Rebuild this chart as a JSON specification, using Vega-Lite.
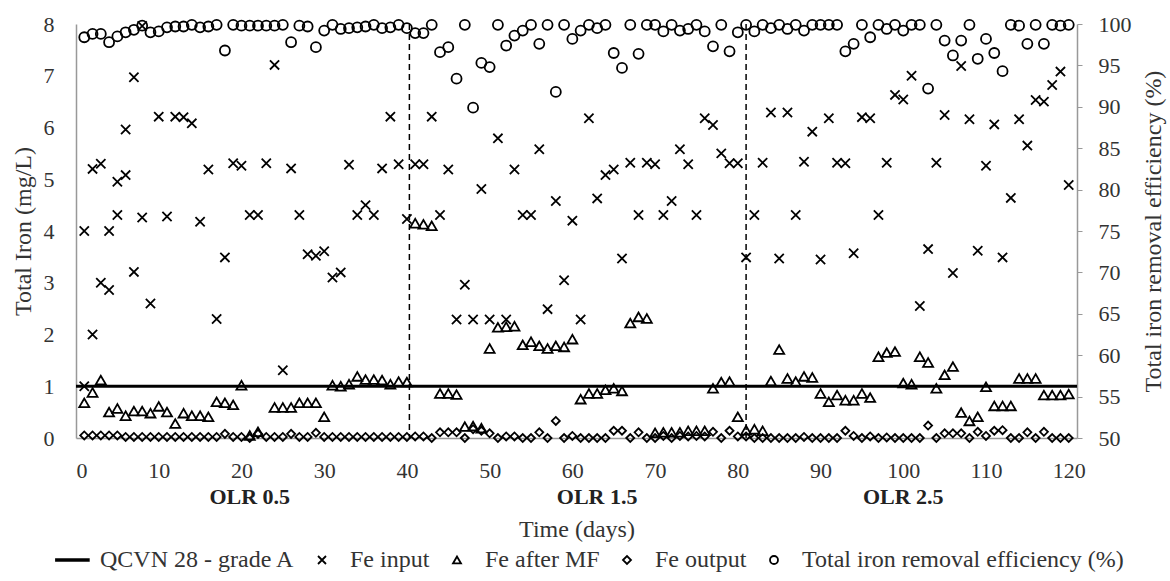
{
  "$schema": "https://vega.github.io/schema/vega-lite/v6.json",
  "width": 1001,
  "height": 414,
  "autosize": {"type": "none"},
  "padding": {"left": 76, "top": 24, "right": 93, "bottom": 143},
  "background": "white",
  "config": {
    "view": {"stroke": null},
    "font": "Liberation Serif",
    "axis": {"grid": false, "labelFont": "Liberation Serif", "titleFont": "Liberation Serif", "labelColor": "#333", "titleColor": "#333", "titleFontWeight": "normal", "domainColor": "#999", "domainWidth": 1.5, "tickColor": "#999"},
    "legend": {"labelFont": "Liberation Serif"}
  },
  "datasets": {
    "standard": [{"iron": 1}],
    "phases": [{"day": 40.3}, {"day": 81}],
    "olr": [{"day": 21, "label": "OLR 0.5"}, {"day": 63, "label": "OLR 1.5"}, {"day": 100, "label": "OLR 2.5"}],
    "fe_in": [
      {"day":1,"iron":4.0},{"day":1,"iron":1.0},{"day":2,"iron":5.2},{"day":2,"iron":2.0},{"day":3,"iron":5.3},{"day":3,"iron":3.0},{"day":4,"iron":4.0},{"day":4,"iron":2.86},{"day":5,"iron":4.31},{"day":5,"iron":4.95},{"day":6,"iron":5.08},{"day":6,"iron":5.96},{"day":7,"iron":6.97},{"day":7,"iron":3.21},{"day":8,"iron":4.26},{"day":8,"iron":7.96},{"day":9,"iron":2.6},{"day":10,"iron":6.21},{"day":11,"iron":4.28},{"day":12,"iron":6.21},{"day":13,"iron":6.2},{"day":14,"iron":6.08},{"day":15,"iron":4.18},{"day":16,"iron":5.19},{"day":17,"iron":2.3},{"day":18,"iron":3.49},{"day":19,"iron":5.31},{"day":20,"iron":5.26},{"day":21,"iron":4.31},{"day":22,"iron":4.31},{"day":23,"iron":5.31},{"day":24,"iron":7.21},{"day":25,"iron":1.31},{"day":26,"iron":5.21},{"day":27,"iron":4.31},{"day":28,"iron":3.55},{"day":29,"iron":3.52},{"day":30,"iron":3.61},{"day":31,"iron":3.1},{"day":32,"iron":3.2},{"day":33,"iron":5.28},{"day":34,"iron":4.31},{"day":35,"iron":4.5},{"day":36,"iron":4.31},{"day":37,"iron":5.21},{"day":38,"iron":6.21},{"day":39,"iron":5.29},{"day":40,"iron":4.23},{"day":41,"iron":5.29},{"day":42,"iron":5.29},{"day":43,"iron":6.21},{"day":44,"iron":4.31},{"day":45,"iron":5.19},{"day":46,"iron":2.29},{"day":47,"iron":2.96},{"day":48,"iron":2.29},{"day":49,"iron":4.81},{"day":50,"iron":2.29},{"day":51,"iron":5.79},{"day":52,"iron":2.29},{"day":53,"iron":5.19},{"day":54,"iron":4.31},{"day":55,"iron":4.31},{"day":56,"iron":5.58},{"day":57,"iron":2.49},{"day":58,"iron":4.58},{"day":59,"iron":3.05},{"day":60,"iron":4.2},{"day":61,"iron":2.29},{"day":62,"iron":6.18},{"day":63,"iron":4.63},{"day":64,"iron":5.08},{"day":65,"iron":5.19},{"day":66,"iron":3.47},{"day":67,"iron":5.32},{"day":68,"iron":4.31},{"day":69,"iron":5.32},{"day":70,"iron":5.29},{"day":71,"iron":4.31},{"day":72,"iron":4.58},{"day":73,"iron":5.58},{"day":74,"iron":5.29},{"day":75,"iron":4.31},{"day":76,"iron":6.18},{"day":77,"iron":6.05},{"day":78,"iron":5.5},{"day":79,"iron":5.31},{"day":80,"iron":5.31},{"day":81,"iron":3.49},{"day":82,"iron":4.31},{"day":83,"iron":5.32},{"day":84,"iron":6.29},{"day":85,"iron":3.47},{"day":86,"iron":6.29},{"day":87,"iron":4.31},{"day":88,"iron":5.34},{"day":89,"iron":5.92},{"day":90,"iron":3.45},{"day":91,"iron":6.18},{"day":92,"iron":5.32},{"day":93,"iron":5.31},{"day":94,"iron":3.57},{"day":95,"iron":6.2},{"day":96,"iron":6.18},{"day":97,"iron":4.31},{"day":98,"iron":5.32},{"day":99,"iron":6.63},{"day":100,"iron":6.54},{"day":101,"iron":7.0},{"day":102,"iron":2.55},{"day":103,"iron":3.65},{"day":104,"iron":5.32},{"day":105,"iron":6.24},{"day":106,"iron":3.19},{"day":107,"iron":7.19},{"day":108,"iron":6.16},{"day":109,"iron":3.62},{"day":110,"iron":5.26},{"day":111,"iron":6.06},{"day":112,"iron":3.49},{"day":113,"iron":4.64},{"day":114,"iron":6.16},{"day":115,"iron":5.65},{"day":116,"iron":6.53},{"day":117,"iron":6.5},{"day":118,"iron":6.82},{"day":119,"iron":7.08},{"day":120,"iron":4.89}
    ],
    "fe_mf": [
      {"day":1,"iron":0.68},{"day":2,"iron":0.88},{"day":3,"iron":1.12},{"day":4,"iron":0.5},{"day":5,"iron":0.57},{"day":6,"iron":0.43},{"day":7,"iron":0.52},{"day":8,"iron":0.52},{"day":9,"iron":0.48},{"day":10,"iron":0.61},{"day":11,"iron":0.5},{"day":12,"iron":0.28},{"day":13,"iron":0.48},{"day":14,"iron":0.43},{"day":15,"iron":0.43},{"day":16,"iron":0.41},{"day":17,"iron":0.7},{"day":18,"iron":0.68},{"day":19,"iron":0.64},{"day":20,"iron":1.02},{"day":21,"iron":0.05},{"day":22,"iron":0.12},{"day":24,"iron":0.59},{"day":25,"iron":0.59},{"day":26,"iron":0.59},{"day":27,"iron":0.68},{"day":28,"iron":0.68},{"day":29,"iron":0.68},{"day":30,"iron":0.41},{"day":31,"iron":1.02},{"day":32,"iron":1.0},{"day":33,"iron":1.04},{"day":34,"iron":1.19},{"day":35,"iron":1.13},{"day":36,"iron":1.13},{"day":37,"iron":1.12},{"day":38,"iron":1.04},{"day":39,"iron":1.09},{"day":40,"iron":1.08},{"day":41,"iron":4.15},{"day":42,"iron":4.13},{"day":43,"iron":4.1},{"day":44,"iron":0.86},{"day":45,"iron":0.86},{"day":46,"iron":0.84},{"day":47,"iron":0.22},{"day":48,"iron":0.23},{"day":49,"iron":0.19},{"day":50,"iron":1.73},{"day":51,"iron":2.14},{"day":52,"iron":2.15},{"day":53,"iron":2.16},{"day":54,"iron":1.8},{"day":55,"iron":1.86},{"day":56,"iron":1.78},{"day":57,"iron":1.73},{"day":58,"iron":1.78},{"day":59,"iron":1.76},{"day":60,"iron":1.91},{"day":61,"iron":0.75},{"day":62,"iron":0.86},{"day":63,"iron":0.86},{"day":64,"iron":0.93},{"day":65,"iron":0.96},{"day":66,"iron":0.91},{"day":67,"iron":2.22},{"day":68,"iron":2.34},{"day":69,"iron":2.31},{"day":70,"iron":0.1},{"day":71,"iron":0.11},{"day":72,"iron":0.11},{"day":73,"iron":0.11},{"day":74,"iron":0.14},{"day":75,"iron":0.14},{"day":76,"iron":0.14},{"day":77,"iron":0.96},{"day":78,"iron":1.08},{"day":79,"iron":1.09},{"day":80,"iron":0.41},{"day":81,"iron":0.15},{"day":82,"iron":0.17},{"day":83,"iron":0.14},{"day":84,"iron":1.1},{"day":85,"iron":1.71},{"day":86,"iron":1.15},{"day":87,"iron":1.09},{"day":88,"iron":1.19},{"day":89,"iron":1.17},{"day":90,"iron":0.86},{"day":91,"iron":0.7},{"day":92,"iron":0.83},{"day":93,"iron":0.73},{"day":94,"iron":0.73},{"day":95,"iron":0.86},{"day":96,"iron":0.78},{"day":97,"iron":1.57},{"day":98,"iron":1.65},{"day":99,"iron":1.67},{"day":100,"iron":1.06},{"day":101,"iron":1.04},{"day":102,"iron":1.57},{"day":103,"iron":1.46},{"day":104,"iron":0.96},{"day":105,"iron":1.22},{"day":106,"iron":1.38},{"day":107,"iron":0.49},{"day":108,"iron":0.33},{"day":109,"iron":0.41},{"day":110,"iron":0.99},{"day":111,"iron":0.62},{"day":112,"iron":0.62},{"day":113,"iron":0.62},{"day":114,"iron":1.15},{"day":115,"iron":1.15},{"day":116,"iron":1.15},{"day":117,"iron":0.83},{"day":118,"iron":0.83},{"day":119,"iron":0.83},{"day":120,"iron":0.85}
    ],
    "fe_out": [
      {"day":1,"iron":0.05},{"day":2,"iron":0.05},{"day":3,"iron":0.05},{"day":4,"iron":0.05},{"day":5,"iron":0.05},{"day":6,"iron":0.02},{"day":7,"iron":0.02},{"day":8,"iron":0.02},{"day":9,"iron":0.02},{"day":10,"iron":0.02},{"day":11,"iron":0.02},{"day":12,"iron":0.02},{"day":13,"iron":0.02},{"day":14,"iron":0.02},{"day":15,"iron":0.02},{"day":16,"iron":0.02},{"day":17,"iron":0.02},{"day":18,"iron":0.08},{"day":19,"iron":0.02},{"day":20,"iron":0.02},{"day":21,"iron":0.0},{"day":22,"iron":0.08},{"day":23,"iron":0.02},{"day":24,"iron":0.02},{"day":25,"iron":0.02},{"day":26,"iron":0.08},{"day":27,"iron":0.02},{"day":28,"iron":0.02},{"day":29,"iron":0.1},{"day":30,"iron":0.02},{"day":31,"iron":0.02},{"day":32,"iron":0.02},{"day":33,"iron":0.02},{"day":34,"iron":0.02},{"day":35,"iron":0.02},{"day":36,"iron":0.02},{"day":37,"iron":0.02},{"day":38,"iron":0.02},{"day":39,"iron":0.02},{"day":40,"iron":0.02},{"day":41,"iron":0.03},{"day":42,"iron":0.03},{"day":43,"iron":0.0},{"day":44,"iron":0.11},{"day":45,"iron":0.11},{"day":46,"iron":0.11},{"day":47,"iron":0.0},{"day":48,"iron":0.17},{"day":49,"iron":0.14},{"day":50,"iron":0.09},{"day":51,"iron":0.0},{"day":52,"iron":0.03},{"day":53,"iron":0.03},{"day":54,"iron":0.0},{"day":55,"iron":0.0},{"day":56,"iron":0.11},{"day":57,"iron":0.0},{"day":58,"iron":0.33},{"day":59,"iron":0.0},{"day":60,"iron":0.04},{"day":61,"iron":0.0},{"day":62,"iron":0.0},{"day":63,"iron":0.0},{"day":64,"iron":0.0},{"day":65,"iron":0.14},{"day":66,"iron":0.14},{"day":67,"iron":0.0},{"day":68,"iron":0.11},{"day":69,"iron":0.0},{"day":70,"iron":0.0},{"day":71,"iron":0.04},{"day":72,"iron":0.0},{"day":73,"iron":0.04},{"day":74,"iron":0.03},{"day":75,"iron":0.04},{"day":76,"iron":0.03},{"day":77,"iron":0.12},{"day":78,"iron":0.0},{"day":79,"iron":0.14},{"day":80,"iron":0.03},{"day":81,"iron":0.03},{"day":82,"iron":0.0},{"day":83,"iron":0.0},{"day":84,"iron":0.0},{"day":85,"iron":0.0},{"day":86,"iron":0.0},{"day":87,"iron":0.0},{"day":88,"iron":0.02},{"day":89,"iron":0.0},{"day":90,"iron":0.0},{"day":91,"iron":0.0},{"day":92,"iron":0.0},{"day":93,"iron":0.14},{"day":94,"iron":0.04},{"day":95,"iron":0.0},{"day":96,"iron":0.03},{"day":97,"iron":0.0},{"day":98,"iron":0.01},{"day":99,"iron":0.0},{"day":100,"iron":0.0},{"day":101,"iron":0.0},{"day":102,"iron":0.0},{"day":103,"iron":0.24},{"day":104,"iron":0.0},{"day":105,"iron":0.09},{"day":106,"iron":0.09},{"day":107,"iron":0.09},{"day":108,"iron":0.0},{"day":109,"iron":0.12},{"day":110,"iron":0.04},{"day":111,"iron":0.14},{"day":112,"iron":0.15},{"day":113,"iron":0.0},{"day":114,"iron":0.0},{"day":115,"iron":0.11},{"day":116,"iron":0.0},{"day":117,"iron":0.12},{"day":118,"iron":0.0},{"day":119,"iron":0.0},{"day":120,"iron":0.0}
    ],
    "eff": [
      {"day":1,"eff":98.4},{"day":2,"eff":98.8},{"day":3,"eff":98.8},{"day":4,"eff":97.8},{"day":5,"eff":98.5},{"day":6,"eff":99.0},{"day":7,"eff":99.3},{"day":8,"eff":99.8},{"day":9,"eff":99.0},{"day":10,"eff":99.1},{"day":11,"eff":99.6},{"day":12,"eff":99.7},{"day":13,"eff":99.7},{"day":14,"eff":99.9},{"day":15,"eff":99.6},{"day":16,"eff":99.7},{"day":17,"eff":99.9},{"day":18,"eff":96.8},{"day":19,"eff":99.9},{"day":20,"eff":99.8},{"day":21,"eff":99.8},{"day":22,"eff":99.8},{"day":23,"eff":99.8},{"day":24,"eff":99.8},{"day":25,"eff":99.9},{"day":26,"eff":97.8},{"day":27,"eff":99.8},{"day":28,"eff":99.7},{"day":29,"eff":97.2},{"day":30,"eff":99.2},{"day":31,"eff":99.9},{"day":32,"eff":99.4},{"day":33,"eff":99.5},{"day":34,"eff":99.6},{"day":35,"eff":99.7},{"day":36,"eff":99.9},{"day":37,"eff":99.5},{"day":38,"eff":99.6},{"day":39,"eff":99.9},{"day":40,"eff":99.5},{"day":41,"eff":98.9},{"day":42,"eff":98.9},{"day":43,"eff":99.9},{"day":44,"eff":96.6},{"day":45,"eff":97.2},{"day":46,"eff":93.4},{"day":47,"eff":99.9},{"day":48,"eff":89.9},{"day":49,"eff":95.3},{"day":50,"eff":94.8},{"day":51,"eff":99.9},{"day":52,"eff":97.4},{"day":53,"eff":98.6},{"day":54,"eff":99.2},{"day":55,"eff":99.9},{"day":56,"eff":97.6},{"day":57,"eff":99.9},{"day":58,"eff":91.8},{"day":59,"eff":99.9},{"day":60,"eff":98.2},{"day":61,"eff":99.2},{"day":62,"eff":99.9},{"day":63,"eff":99.5},{"day":64,"eff":99.9},{"day":65,"eff":96.5},{"day":66,"eff":94.7},{"day":67,"eff":99.9},{"day":68,"eff":96.4},{"day":69,"eff":99.9},{"day":70,"eff":99.9},{"day":71,"eff":99.1},{"day":72,"eff":99.9},{"day":73,"eff":99.2},{"day":74,"eff":99.4},{"day":75,"eff":99.9},{"day":76,"eff":99.1},{"day":77,"eff":97.3},{"day":78,"eff":99.9},{"day":79,"eff":96.7},{"day":80,"eff":99.0},{"day":81,"eff":99.9},{"day":82,"eff":99.1},{"day":83,"eff":99.9},{"day":84,"eff":99.5},{"day":85,"eff":99.9},{"day":86,"eff":99.4},{"day":87,"eff":99.9},{"day":88,"eff":99.2},{"day":89,"eff":99.9},{"day":90,"eff":99.9},{"day":91,"eff":99.9},{"day":92,"eff":99.9},{"day":93,"eff":96.7},{"day":94,"eff":97.6},{"day":95,"eff":99.9},{"day":96,"eff":98.4},{"day":97,"eff":99.9},{"day":98,"eff":99.4},{"day":99,"eff":99.9},{"day":100,"eff":99.2},{"day":101,"eff":99.9},{"day":102,"eff":99.9},{"day":103,"eff":92.2},{"day":104,"eff":99.9},{"day":105,"eff":98.0},{"day":106,"eff":96.2},{"day":107,"eff":98.0},{"day":108,"eff":99.9},{"day":109,"eff":95.8},{"day":110,"eff":98.2},{"day":111,"eff":96.5},{"day":112,"eff":94.3},{"day":113,"eff":99.9},{"day":114,"eff":99.8},{"day":115,"eff":97.6},{"day":116,"eff":99.9},{"day":117,"eff":97.6},{"day":118,"eff":99.9},{"day":119,"eff":99.8},{"day":120,"eff":99.9}
    ]
  },
  "layer": [
    {
      "layer": [
        {
          "data": {"name": "standard"},
          "mark": {"type": "rule", "color": "black", "strokeWidth": 3},
          "encoding": {
            "y": {"field": "iron", "type": "quantitative", "scale": {"domain": [0, 8], "nice": false}, "axis": {"values": [0,1,2,3,4,5,6,7,8], "ticks": false, "labelFontSize": 22, "labelPadding": 22, "title": "Total Iron (mg/L)", "titleFontSize": 24, "titlePadding": 8}}
          }
        },
        {
          "data": {"name": "phases"},
          "mark": {"type": "rule", "color": "black", "strokeWidth": 1.5, "strokeDash": [6, 4]},
          "encoding": {
            "x": {"field": "day", "type": "quantitative", "scale": {"domain": [0, 121], "nice": false}, "axis": {"values": [0,10,20,30,40,50,60,70,80,90,100,110,120], "ticks": false, "labelFontSize": 22, "labelPadding": 22, "title": "Time (days)", "titleFontSize": 24, "titlePadding": 36}}
          }
        },
        {
          "data": {"name": "fe_in"},
          "mark": {"type": "point", "filled": false, "color": "black", "strokeWidth": 1.8, "size": 85, "opacity": 1},
          "encoding": {
            "x": {"field": "day", "type": "quantitative", "scale": {"domain": [0, 121], "nice": false}, "axis": {"values": [0,10,20,30,40,50,60,70,80,90,100,110,120], "ticks": false, "labelFontSize": 22, "labelPadding": 22, "title": "Time (days)", "titleFontSize": 24, "titlePadding": 36}},
            "y": {"field": "iron", "type": "quantitative", "scale": {"domain": [0, 8], "nice": false}, "axis": {"values": [0,1,2,3,4,5,6,7,8], "ticks": false, "labelFontSize": 22, "labelPadding": 22, "title": "Total Iron (mg/L)", "titleFontSize": 24, "titlePadding": 8}},
            "shape": {"datum": "Fe input", "type": "nominal", "scale": {"domain": ["QCVN 28 - grade A", "Fe input", "Fe after MF", "Fe output", "Total iron removal efficiency  (%)"], "range": ["M-4,-0.2L4.2,-0.2L4.2,0.2L-4,0.2Z", "M-1,-1L1,1M-1,1L1,-1", "triangle-up", "diamond", "circle"]}, "legend": {"title": null, "orient": "none", "legendX": -16, "legendY": 524, "direction": "horizontal", "columns": 5, "symbolSize": 64, "symbolStrokeColor": "black", "symbolFillColor": "transparent", "symbolStrokeWidth": 1.8, "labelFontSize": 24, "labelLimit": 0, "labelColor": "#333", "labelOffset": 16, "columnPadding": 15, "padding": 0}}
          }
        },
        {
          "data": {"name": "fe_mf"},
          "mark": {"type": "point", "filled": false, "color": "black", "strokeWidth": 1.8, "size": 100, "opacity": 1},
          "encoding": {
            "x": {"field": "day", "type": "quantitative", "scale": {"domain": [0, 121], "nice": false}, "axis": {"values": [0,10,20,30,40,50,60,70,80,90,100,110,120], "ticks": false, "labelFontSize": 22, "labelPadding": 22, "title": "Time (days)", "titleFontSize": 24, "titlePadding": 36}},
            "y": {"field": "iron", "type": "quantitative", "scale": {"domain": [0, 8], "nice": false}, "axis": {"values": [0,1,2,3,4,5,6,7,8], "ticks": false, "labelFontSize": 22, "labelPadding": 22, "title": "Total Iron (mg/L)", "titleFontSize": 24, "titlePadding": 8}},
            "shape": {"datum": "Fe after MF", "type": "nominal"}
          }
        },
        {
          "data": {"name": "fe_out"},
          "mark": {"type": "point", "filled": false, "color": "black", "strokeWidth": 1.8, "size": 64, "opacity": 1},
          "encoding": {
            "x": {"field": "day", "type": "quantitative", "scale": {"domain": [0, 121], "nice": false}, "axis": {"values": [0,10,20,30,40,50,60,70,80,90,100,110,120], "ticks": false, "labelFontSize": 22, "labelPadding": 22, "title": "Time (days)", "titleFontSize": 24, "titlePadding": 36}},
            "y": {"field": "iron", "type": "quantitative", "scale": {"domain": [0, 8], "nice": false}, "axis": {"values": [0,1,2,3,4,5,6,7,8], "ticks": false, "labelFontSize": 22, "labelPadding": 22, "title": "Total Iron (mg/L)", "titleFontSize": 24, "titlePadding": 8}},
            "shape": {"datum": "Fe output", "type": "nominal"}
          }
        },
        {
          "data": {"name": "olr"},
          "mark": {"type": "text", "font": "Liberation Serif", "fontSize": 22, "fontWeight": "bold", "color": "#222", "baseline": "middle", "align": "center", "y": {"expr": "height + 59"}},
          "encoding": {
            "x": {"field": "day", "type": "quantitative", "scale": {"domain": [0, 121], "nice": false}, "axis": {"values": [0,10,20,30,40,50,60,70,80,90,100,110,120], "ticks": false, "labelFontSize": 22, "labelPadding": 22, "title": "Time (days)", "titleFontSize": 24, "titlePadding": 36}},
            "text": {"field": "label"}
          }
        }
      ]
    },
    {
      "data": {"name": "eff"},
      "mark": {"type": "point", "filled": false, "color": "black", "strokeWidth": 1.8, "size": 100, "opacity": 1},
      "encoding": {
        "x": {"field": "day", "type": "quantitative", "scale": {"domain": [0, 121], "nice": false}, "axis": {"values": [0,10,20,30,40,50,60,70,80,90,100,110,120], "ticks": false, "labelFontSize": 22, "labelPadding": 22, "title": "Time (days)", "titleFontSize": 24, "titlePadding": 36}},
        "y": {"field": "eff", "type": "quantitative", "scale": {"domain": [50, 100], "nice": false}, "axis": {"orient": "right", "values": [50,55,60,65,70,75,80,85,90,95,100], "ticks": true, "tickSize": 5, "labelFontSize": 22, "labelPadding": 16, "title": "Total iron removal efficiency  (%)", "titleFontSize": 24, "titleAngle": 270, "titlePadding": 34}},
        "shape": {"datum": "Total iron removal efficiency  (%)", "type": "nominal"}
      }
    }
  ],
  "resolve": {"scale": {"y": "independent"}}
}
